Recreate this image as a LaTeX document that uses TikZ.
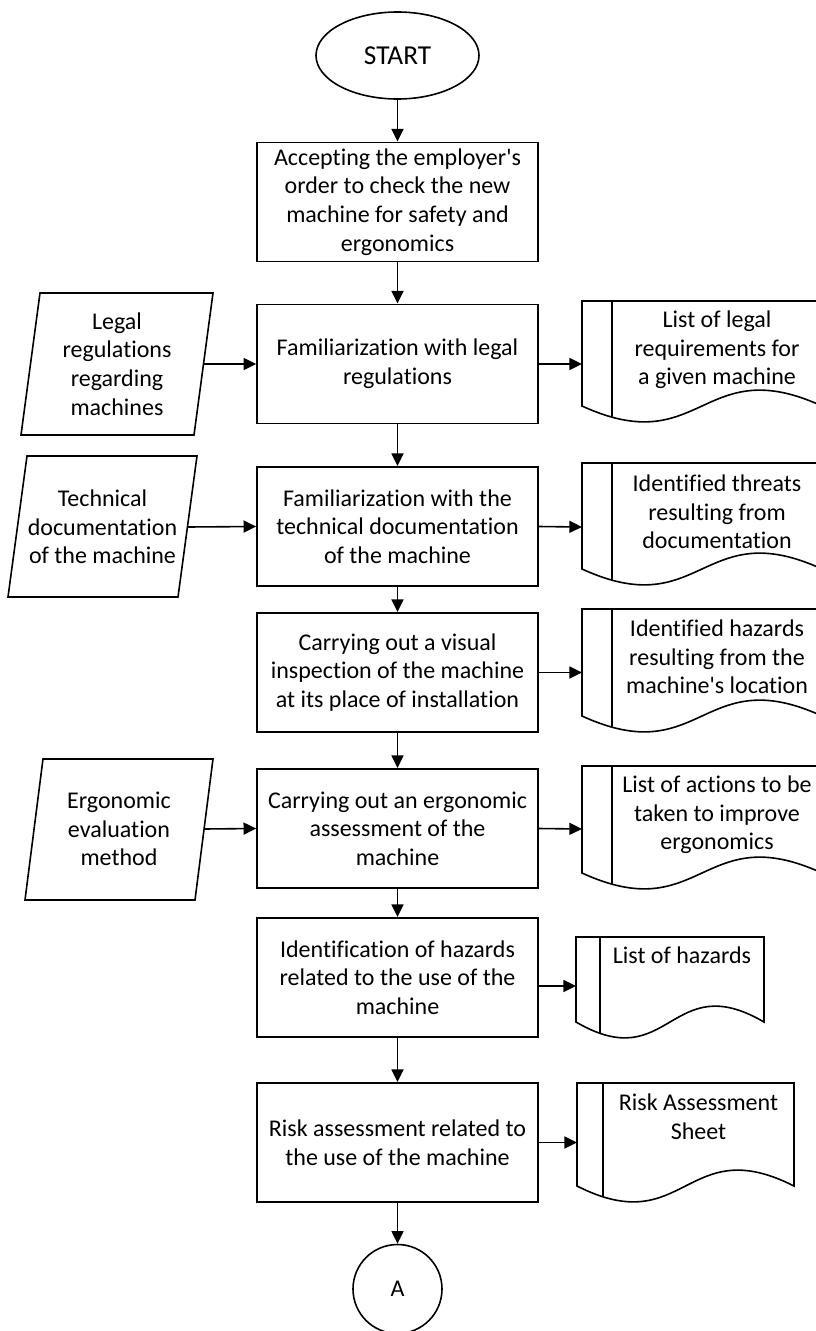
\documentclass[tikz,border=0pt]{standalone}
\usepackage{fontspec}
\setmainfont{Carlito}[Ligatures={NoCommon}]
\usetikzlibrary{arrows.meta,shapes.geometric}
\newcommand\docpath[4]{(#1,#3) -- (#2,#3) -- (#2,#4) .. controls ({(#1+#2)/2},{#4-55}) and ({(#1+#2)/2},{#4+55}) .. (#1,#4) -- cycle}
\newcommand\docshape[5]{%
  \draw[ln] \docpath{#1}{#3}{#4}{#5};
  \begin{scope}\clip \docpath{#1}{#3}{#4}{#5};
  \draw[ln] (#2,#4) -- (#2,{#5+60});\end{scope}}
\newcommand\apo{\textquotesingle}
\begin{document}
\begin{tikzpicture}[x=0.75pt,y=-0.75pt,
  ln/.style={line width=1.2pt,black},
  txt/.style={align=center,inner sep=0pt,font=\fontsize{18}{21.5}\selectfont},
  box/.style={ln,draw,txt,minimum width=210.75pt,minimum height=89.5pt},
  arr/.style={ln,-{Triangle[length=9.5pt,width=9pt]}}]
\useasboundingbox (0,0) rectangle (816,1331);
\clip (0,0) rectangle (816,1331);
\fill[white] (0,0) rectangle (816,1331);
% start / end
\node[ln,draw,ellipse,inner sep=0pt,minimum width=122.25pt,minimum height=65.25pt,font=\fontsize{20.5}{24}\selectfont] (st) at (397.5,55.5) {START};
\node[ln,draw,circle,inner sep=0pt,minimum size=66.75pt,txt] (ca) at (397.5,1289) {A};
% process boxes
\node[box] (b1) at (397.5,202) {Accepting the employer\apo s\\order to check the new\\machine for safety and\\ergonomics};
\node[box] (b2) at (397.5,364) {Familiarization with legal\\regulations};
\node[box] (b3) at (397.5,526.5) {Familiarization with the\\technical documentation\\of the machine};
\node[box] (b4) at (397.5,672.5) {Carrying out a visual\\inspection of the machine\\at its place of installation};
\node[box] (b5) at (397.5,828.5) {Carrying out an ergonomic\\assessment of the\\machine};
\node[box] (b6) at (397.5,977.5) {Identification of hazards\\related to the use of the\\machine};
\node[box] (b7) at (397.5,1142.5) {Risk assessment related to\\the use of the machine};
% inputs (parallelograms)
\draw[ln] (40,293) -- (213,293) -- (194,435) -- (21,435) -- cycle;
\coordinate (p1e) at (203.5,364);
\node[txt] (p1) at (117,364) {Legal\\regulations\\regarding\\machines};
\draw[ln] (27,456) -- (197,456) -- (178,597) -- (8,597) -- cycle;
\coordinate (p2e) at (187.5,527);
\node[txt] (p2) at (102.5,527) {Technical\\documentation\\of the machine};
\draw[ln] (43,759) -- (213,759) -- (195,900) -- (25,900) -- cycle;
\coordinate (p3e) at (204,829);
\node[txt] (p3) at (119,829) {Ergonomic\\evaluation\\method};
% documents
\docshape{582}{612}{822}{301}{406}
\node[txt] (d1) at (717,350) {List of legal\\requirements for\\a given machine};
\coordinate (d1w) at (582,364);
\docshape{582}{612}{822}{463}{569}
\node[txt] (d2) at (717,512) {Identified threats\\resulting from\\documentation};
\coordinate (d2w) at (582,527);
\docshape{582}{612}{822}{609}{716}
\node[txt] (d3) at (717,657) {Identified hazards\\resulting from the\\machine\apo s location};
\coordinate (d3w) at (582,672.5);
\docshape{582}{612}{822}{766}{873}
\node[txt] (d4) at (717,815) {List of actions to be\\taken to improve\\ergonomics};
\coordinate (d4w) at (582,829);
\docshape{576}{600}{764}{937}{1022}
\node[txt] (d5) at (682,955) {List of hazards};
\coordinate (d5w) at (576,986);
\docshape{577}{603}{794}{1083}{1186}
\node[txt] (d6) at (698.5,1116.5) {Risk Assessment\\Sheet};
\coordinate (d6w) at (577,1142.5);
% main flow
\draw[arr] (st) -- (b1);
\draw[arr] (b1) -- (b2);
\draw[arr] (b2) -- (b3);
\draw[arr] (b3) -- (b4);
\draw[arr] (b4) -- (b5);
\draw[arr] (b5) -- (b6);
\draw[arr] (b6) -- (b7);
\draw[arr] (b7) -- (ca);
% inputs
\draw[arr] (p1e) -- (b2.west);
\draw[arr] (p2e) -- (b3.west);
\draw[arr] (p3e) -- (b5.west);
% outputs
\draw[arr] (b2.east) -- (d1w);
\draw[arr] (b3.east) -- (d2w);
\draw[arr] (b4.east) -- (d3w);
\draw[arr] (b5.east) -- (d4w);
\draw[arr] (b6.east |- d5w) -- (d5w);
\draw[arr] (b7.east) -- (d6w);
\end{tikzpicture}
\end{document}
